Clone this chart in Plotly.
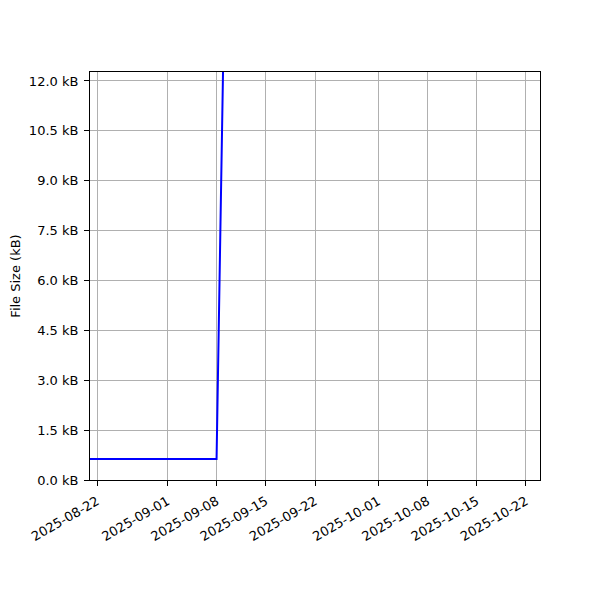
import plotly.graph_objects as go

dates = ["2025-08-21", "2025-09-08", "2025-09-09", "2025-10-24"]
sizes_kb = [0.63, 0.63, 13.3, 15.0]

y_tick_vals = [0.0, 1.5, 3.0, 4.5, 6.0, 7.5, 9.0, 10.5, 12.0]
y_tick_text = [f"{v:.1f} kB" for v in y_tick_vals]
x_tick_vals = ["2025-08-22", "2025-09-01", "2025-09-08", "2025-09-15", "2025-09-22",
               "2025-10-01", "2025-10-08", "2025-10-15", "2025-10-22"]

fig = go.Figure()
fig.add_trace(go.Scatter(x=dates, y=sizes_kb, mode="lines",
                         line=dict(color="#0000ff", width=2), showlegend=False))

axis_common = dict(showline=True, linecolor="black", linewidth=1, mirror=True,
                   showgrid=True, gridcolor="#b0b0b0", gridwidth=1,
                   ticks="outside", ticklen=5, tickcolor="black", tickwidth=1,
                   ticklabelstandoff=3,
                   zeroline=False, automargin=False,
                   tickfont=dict(family="DejaVu Sans", size=13, color="black"))

fig.update_layout(
    width=600, height=600,
    margin=dict(l=82, r=68, t=64, b=128),
    paper_bgcolor="white", plot_bgcolor="white",
    xaxis=dict(range=["2025-08-21", "2025-10-24"], tickvals=x_tick_vals,
               ticktext=x_tick_vals, tickangle=-30, **axis_common),
    yaxis=dict(range=[0, 12.27], tickvals=y_tick_vals, ticktext=y_tick_text,
               title=dict(text="File Size (kB)", standoff=12,
                          font=dict(family="DejaVu Sans", size=13, color="black")),
               **axis_common),
)

fig.write_html("out.html")
